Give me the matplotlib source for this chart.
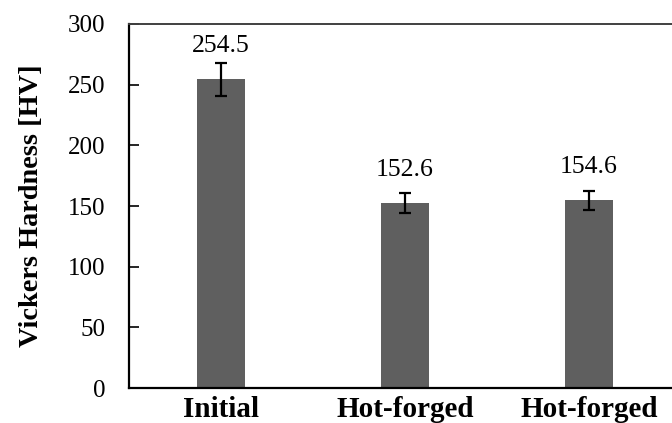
import matplotlib
matplotlib.use("Agg")
import matplotlib.pyplot as plt

categories = ["Initial", "Hot-forged", "Hot-forged"]
hardness = [254.5, 152.6, 154.6]
errors = [13.5, 8.0, 8.0]
yticks = [0, 50, 100, 150, 200, 250, 300]

plt.rcParams['font.family'] = ['Liberation Serif', 'DejaVu Serif']

fig = plt.figure(figsize=(6.72, 4.23), dpi=100)
ax = fig.add_axes([129/672, 1 - 388/423, 552/672, 364/423])

x = list(range(len(categories)))
ax.bar(x, hardness, width=0.266, color='#5f5f5f', zorder=2)
ax.errorbar(x, hardness, yerr=errors, fmt='none', ecolor='black',
            elinewidth=1.6, capsize=4.5, capthick=1.6, zorder=3)

for xi, v in zip(x, hardness):
    ax.annotate(f"{v:.1f}", xy=(xi, v), xytext=(0, 19.5), textcoords='offset points',
                ha='center', va='baseline', fontsize=18.5)

ax.set_xlim(-0.5, 2.5)
ax.set_ylim(0, 300)
ax.set_yticks(yticks)
ax.set_xticks(x)
ax.set_xticklabels(categories, fontsize=21, fontweight='bold')
ax.tick_params(axis='x', length=0, pad=6)
ax.tick_params(axis='y', direction='in', length=7, width=1.2, pad=17, labelsize=18)
ax.set_ylabel("Vickers Hardness [HV]", fontsize=20.3, fontweight='bold', labelpad=17)

for s in ['left', 'bottom']:
    ax.spines[s].set_linewidth(1.6)
    ax.spines[s].set_color('black')
ax.spines['top'].set_linewidth(1.4)
ax.spines['top'].set_color('#404040')
ax.spines['right'].set_visible(False)

fig.savefig("out.png", dpi=100)
